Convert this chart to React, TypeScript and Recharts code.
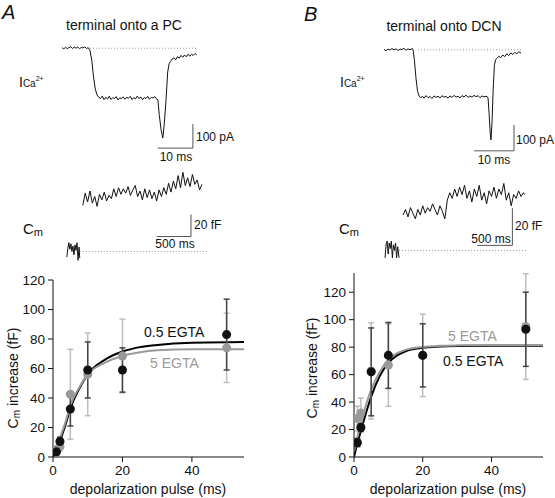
import React from "react";
import {
  LineChart,
  Line,
  XAxis,
  YAxis,
  ReferenceLine,
  ComposedChart,
  Scatter,
  ErrorBar,
} from "recharts";

// ---- raw traces, [time (ms), value] ----
const pcCurrentTrace: [number, number][] = [
  [0, 2], [0.5, -3], [1, 4], [1.5, -2], [2, 3], [2.5, 6], [3, -1], [3.5, 4], [4, 0], [4.5, 5],
  [5, -2], [5.5, 3], [6, 1], [6.5, 6], [7, -1], [7.5, 2], [8, -10], [8.5, -50], [9, -120],
  [9.5, -170], [10, -195], [10.5, -205], [11, -210], [11.5, -200], [12, -215], [12.5, -205],
  [13, -212], [13.5, -200], [14, -214], [14.5, -206], [15, -210], [15.5, -202], [16, -216],
  [16.5, -207], [17, -211], [17.5, -203], [18, -213], [18.5, -205], [19, -209], [19.5, -201],
  [20, -214], [20.5, -206], [21, -212], [21.5, -200], [22, -210], [22.5, -204], [23, -215],
  [23.5, -206], [24, -210], [24.5, -201], [25, -213], [25.5, -205], [26, -208], [26.5, -202],
  [27, -212], [27.4, -215], [27.8, -280], [28.3, -340], [28.8, -375], [29.2, -320], [29.7, -220],
  [30.2, -100], [30.6, -65], [31, -55], [31.5, -45], [32, -40], [32.5, -48], [33, -35],
  [33.5, -42], [34, -30], [34.5, -38], [35, -28], [35.5, -36], [36, -25], [36.5, -33],
  [37, -26], [37.5, -30], [38, -22], [38.5, -28],
];

const dcnCurrentTrace: [number, number][] = [
  [0, 2], [0.5, -4], [1, 3], [1.5, -1], [2, 5], [2.5, 0], [3, 4], [3.5, -3], [4, 3], [4.5, 1],
  [5, 6], [5.5, -2], [6, 4], [6.5, 0], [7, 5], [7.25, 2], [7.6, -40], [8, -110], [8.4, -160],
  [8.8, -178], [9.2, -185], [9.6, -178], [10, -186], [10.5, -176], [11, -184], [11.5, -179],
  [12, -187], [12.5, -177], [13, -183], [13.5, -178], [14, -185], [14.5, -176], [15, -182],
  [15.5, -179], [16, -186], [16.5, -177], [17, -183], [17.5, -175], [18, -182], [18.5, -178],
  [19, -185], [19.5, -176], [20, -181], [20.5, -174], [21, -183], [21.5, -177], [22, -182],
  [22.5, -175], [23, -180], [23.5, -176], [24, -184], [24.5, -177], [25, -181], [25.5, -178],
  [26, -183], [26.3, -250], [26.55, -320], [26.75, -346], [27, -280], [27.3, -150], [27.6, -60],
  [27.9, -38], [28.3, -32], [28.7, -25], [29.2, -30], [29.7, -20], [30.2, -26], [30.7, -15],
  [31.2, -22], [31.7, -12], [32.2, -18], [32.7, -10], [33.2, -15], [33.7, -8], [34.25, -12],
];

const pcCmBefore: [number, number][] = [
  [0, -5], [15, 3], [30, 8], [45, 2], [60, 7], [75, 0], [90, 5], [105, -3], [120, 6],
  [135, 1], [150, 8], [165, -8], [180, 4], [190, -6],
];

const pcCmAfter: [number, number][] = [
  [235, 42], [270, 53], [305, 45], [340, 55], [375, 44], [410, 50], [445, 41], [480, 52],
  [515, 47], [550, 54], [585, 46], [620, 51], [655, 48], [690, 57], [725, 50], [760, 58],
  [795, 52], [830, 57], [865, 53], [900, 59], [935, 51], [970, 56], [1005, 60], [1040, 50],
  [1075, 55], [1110, 47], [1145, 57], [1180, 49], [1215, 56], [1250, 48], [1285, 54],
  [1320, 46], [1355, 56], [1390, 50], [1425, 58], [1460, 52], [1495, 62], [1530, 54],
  [1565, 64], [1600, 57], [1635, 69], [1670, 58], [1705, 72], [1740, 60], [1775, 67],
  [1810, 59], [1845, 70], [1880, 61], [1915, 65], [1950, 56], [1985, 61],
];

const dcnCmBefore: [number, number][] = [
  [0, -4], [15, 3], [30, 5], [45, -2], [60, 4], [75, 1], [90, 5], [105, -4], [120, 3],
  [135, 0], [150, 4], [165, -4], [180, 2], [200, -4],
];

const dcnCmAfter: [number, number][] = [
  [257, 19], [292, 22], [327, 18], [362, 23], [397, 20], [432, 17], [467, 22], [502, 19],
  [537, 24], [572, 20], [607, 23], [642, 21], [677, 25], [712, 22], [747, 19], [782, 24],
  [817, 21], [852, 17], [887, 27], [922, 31], [957, 28], [992, 33], [1027, 29], [1062, 34],
  [1097, 30], [1132, 35], [1167, 28], [1202, 32], [1237, 26], [1272, 33], [1307, 29],
  [1342, 35], [1377, 27], [1412, 31], [1447, 25], [1482, 32], [1517, 29], [1552, 34],
  [1587, 28], [1622, 33], [1657, 30], [1692, 36], [1727, 27], [1762, 31], [1797, 24],
  [1832, 30], [1867, 28], [1902, 32], [1937, 29], [1972, 31], [1986, 30],
];

// ---- summary data ----
const pulses = [1, 2, 5, 10, 20, 50];
const pcLow = [3.5, 10.5, 32.5, 59, 59, 83];
const pcLowErr = [2, 3, 11.5, 19, 15, 24];
const pcHigh = [5, 7, 42.5, 56, 68.5, 74];
const pcHighErr = [2, 3, 30.5, 28, 25, 23.5];
const dcnLow = [10.5, 21.5, 62, 74, 74, 93];
const dcnLowErr = [3, 3, 32, 24, 23, 27];
const dcnHigh = [28, 32, 62.7, 67, 74, 95];
const dcnHighErr = [9, 11, 35, 30, 30, 38.5];

const fitX = [0, 1, 2, 3.5, 5, 7.5, 10, 15, 20, 25, 30, 40, 55];
const pcLowFit = [0, 5, 11, 21, 33, 46, 56, 66, 71.5, 74.5, 76, 77.5, 78];
const pcHighFit = [2, 7, 13, 23, 35, 47, 56, 64, 68.5, 71, 72.3, 73, 73];
const dcnLowFit = [0, 10, 19, 32, 44, 59, 68.5, 77, 79.5, 80.4, 80.8, 81, 81];
const dcnHighFit = [4, 15, 25, 38, 49, 62, 71, 78, 80.2, 81, 81.3, 81.5, 81.5];

const pulseTicks = [0, 20, 40];
const cmTicks = [0, 20, 40, 60, 80, 100, 120];

const FONT = "'Liberation Sans', Arial, sans-serif";

const toPts = (arr: [number, number][]) => arr.map(([t, v]) => ({ t, v }));
const toXY = (xs: number[], ys: number[], errs?: number[]) =>
  xs.map((x, i) => ({ x, y: ys[i], err: errs ? errs[i] : 0 }));

type TraceProps = {
  left: number;
  top: number;
  width: number;
  height: number;
  xDomain: [number, number];
  yDomain: [number, number];
  pieces: [number, number][][];
  baseline: [number, number];
  barX: [number, number];
  barY: [number, number];
};

function Trace(p: TraceProps) {
  return (
    <div style={{ position: "absolute", left: p.left, top: p.top }}>
      <LineChart width={p.width} height={p.height} margin={{ top: 0, right: 0, bottom: 0, left: 0 }}>
        <XAxis type="number" dataKey="t" domain={p.xDomain} hide allowDataOverflow />
        <YAxis type="number" domain={p.yDomain} hide allowDataOverflow />
        <ReferenceLine
          segment={[{ x: p.baseline[0], y: 0 }, { x: p.baseline[1], y: 0 }]}
          stroke="#9a9a9a"
          strokeDasharray="1 2"
        />
        <ReferenceLine
          segment={[{ x: p.barX[1], y: p.barY[0] }, { x: p.barX[1], y: p.barY[1] }]}
          stroke="#555"
        />
        <ReferenceLine
          segment={[{ x: p.barX[0], y: p.barY[0] }, { x: p.barX[1], y: p.barY[0] }]}
          stroke="#555"
        />
        {p.pieces.map((piece, i) => (
          <Line
            key={i}
            data={toPts(piece)}
            dataKey="v"
            type="linear"
            stroke="#111"
            strokeWidth={1}
            dot={false}
            isAnimationActive={false}
          />
        ))}
      </LineChart>
    </div>
  );
}

type SummaryProps = {
  left: number;
  width: number;
  marginLeft: number;
  marginTop: number;
  marginRight: number;
  yMax: number;
  low: number[];
  lowErr: number[];
  high: number[];
  highErr: number[];
  lowFit: number[];
  highFit: number[];
};

function Summary(p: SummaryProps) {
  const tick = { fill: "#111", fontSize: 13.5, fontFamily: FONT };
  return (
    <div style={{ position: "absolute", left: p.left, top: 260 }}>
      <ComposedChart
        width={p.width}
        height={238}
        margin={{ top: p.marginTop, right: p.marginRight, bottom: 11, left: p.marginLeft }}
      >
        <XAxis
          type="number"
          dataKey="x"
          domain={[0, 55]}
          ticks={pulseTicks}
          height={30}
          tickSize={5}
          tickMargin={3}
          stroke="#111"
          tick={tick}
          allowDataOverflow
        />
        <YAxis
          type="number"
          dataKey="y"
          domain={[0, p.yMax]}
          ticks={cmTicks}
          width={45}
          tickSize={5}
          tickMargin={3}
          stroke="#111"
          tick={tick}
          allowDataOverflow
        />
        <Line data={toXY(fitX, p.lowFit)} dataKey="y" type="monotone" stroke="#000" strokeWidth={2} dot={false} isAnimationActive={false} />
        <Line data={toXY(fitX, p.highFit)} dataKey="y" type="monotone" stroke="#9a9a9a" strokeWidth={2} dot={false} isAnimationActive={false} />
        <Scatter data={toXY(pulses, p.high, p.highErr)} fill="#999" isAnimationActive={false}>
          <ErrorBar dataKey="err" direction="y" width={3} stroke="#bdbdbd" strokeWidth={1.5} />
        </Scatter>
        <Scatter data={toXY(pulses, p.low, p.lowErr)} fill="#111" isAnimationActive={false}>
          <ErrorBar dataKey="err" direction="y" width={3} stroke="#444" strokeWidth={1.5} />
        </Scatter>
      </ComposedChart>
    </div>
  );
}

function ICa({ x }: { x: number }) {
  return (
    <text x={x} y={87} fontSize={14}>
      I
      <tspan fontSize={10}>Ca</tspan>
      <tspan fontSize={7} dy={-6}>2+</tspan>
    </text>
  );
}

function Cm({ x }: { x: number }) {
  return (
    <text x={x} y={234} fontSize={15}>
      C<tspan fontSize={11} dy={2}>m</tspan>
    </text>
  );
}

function CmAxisLabel({ x, y }: { x: number; y: number }) {
  return (
    <text x={x} y={y} fontSize={14} textAnchor="middle" transform={`rotate(-90 ${x} ${y})`}>
      C<tspan fontSize={10} dy={2}>m</tspan>
      <tspan dy={-2}> increase (fF)</tspan>
    </text>
  );
}

export default function App() {
  return (
    <div
      style={{
        position: "absolute",
        left: 0,
        top: 0,
        width: 555,
        height: 498,
        background: "#fff",
        fontFamily: FONT,
        overflow: "hidden",
      }}
    >
      <Trace
        left={55} top={41} width={175} height={127}
        xDomain={[-2, 48]} yDomain={[-500, 30]}
        pieces={[pcCurrentTrace]} baseline={[8, 38.5]}
        barX={[27.4, 37.4]} barY={[-417, -317]}
      />
      <Trace
        left={380} top={42} width={164} height={138}
        xDomain={[-1, 40]} yDomain={[-500, 30]}
        pieces={[dcnCurrentTrace]} baseline={[8.5, 34.25]}
        barX={[22.5, 32.5]} barY={[-388, -288]}
      />
      <Trace
        left={60} top={169} width={160} height={99}
        xDomain={[-100, 2250]} yDomain={[-15, 75]}
        pieces={[pcCmBefore, pcCmAfter]} baseline={[191, 2059]}
        barX={[1324, 1824]} barY={[13.6, 33.6]}
      />
      <Trace
        left={378} top={176} width={165} height={93}
        xDomain={[-100, 2250]} yDomain={[-10, 40]}
        pieces={[dcnCmBefore, dcnCmAfter]} baseline={[200, 2029]}
        barX={[1314, 1814]} barY={[2.7, 22.7]}
      />
      <Summary
        left={0} width={260} marginLeft={8} marginTop={20} marginRight={16} yMax={120}
        low={pcLow} lowErr={pcLowErr} high={pcHigh} highErr={pcHighErr}
        lowFit={pcLowFit} highFit={pcHighFit}
      />
      <Summary
        left={280} width={275} marginLeft={29} marginTop={13} marginRight={12} yMax={134}
        low={dcnLow} lowErr={dcnLowErr} high={dcnHigh} highErr={dcnHighErr}
        lowFit={dcnLowFit} highFit={dcnHighFit}
      />
      <svg
        width={555}
        height={498}
        style={{ position: "absolute", left: 0, top: 0, pointerEvents: "none" }}
        fontFamily={FONT}
        fill="#111"
      >
        <text x={2} y={19} fontSize={20} fontStyle="italic">A</text>
        <text x={304} y={21} fontSize={20} fontStyle="italic">B</text>
        <text x={124} y={30} fontSize={14} textAnchor="middle">terminal onto a PC</text>
        <text x={444} y={31} fontSize={14} textAnchor="middle">terminal onto DCN</text>
        <ICa x={19} />
        <ICa x={340} />
        <Cm x={23} />
        <Cm x={339} />
        <text x={196} y={141} fontSize={12}>100 pA</text>
        <text x={176} y={161} fontSize={12} textAnchor="middle">10 ms</text>
        <text x={516} y={144} fontSize={12}>100 pA</text>
        <text x={494} y={164} fontSize={12} textAnchor="middle">10 ms</text>
        <text x={194} y={229} fontSize={12}>20 fF</text>
        <text x={175} y={248} fontSize={12} textAnchor="middle">500 ms</text>
        <text x={515} y={230} fontSize={12}>20 fF</text>
        <text x={491} y={243} fontSize={12} textAnchor="middle">500 ms</text>
        <CmAxisLabel x={18} y={378} />
        <CmAxisLabel x={317} y={368} />
        <text x={148} y={494} fontSize={14} textAnchor="middle">depolarization pulse (ms)</text>
        <text x={448} y={494} fontSize={14} textAnchor="middle">depolarization pulse (ms)</text>
        <text x={144} y={337} fontSize={14}>0.5 EGTA</text>
        <text x={150} y={368} fontSize={14} fill="#9a9a9a">5 EGTA</text>
        <text x={448} y={341} fontSize={14} fill="#9a9a9a">5 EGTA</text>
        <text x={443} y={366} fontSize={14}>0.5 EGTA</text>
      </svg>
    </div>
  );
}
